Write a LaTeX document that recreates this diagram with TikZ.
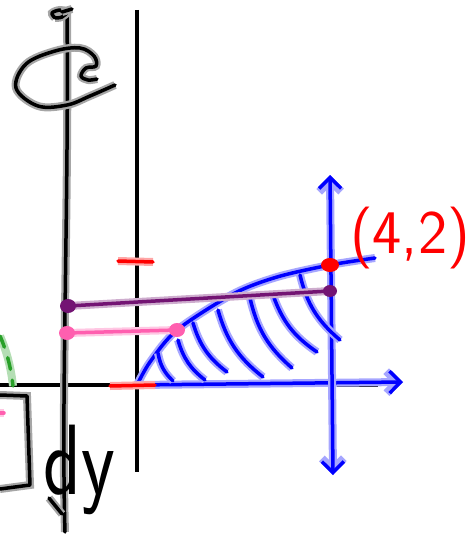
\documentclass[tikz,border=0pt]{standalone}
\usepackage{tikz}
\usetikzlibrary{arrows.meta, positioning, calc}

\definecolor{inkpurple}{RGB}{115,20,115}
\definecolor{inkpink}{RGB}{255,95,175}
\definecolor{inkgreen}{RGB}{40,160,40}

\tikzset{
  ink/.style={draw=#1, line width=3.5pt, line cap=round, line join=round,
    preaction={draw=#1!35, line width=8pt}},
  barb/.style={>={Straight Barb[length=11pt, width=22pt]}},
}

\begin{document}
\begin{tikzpicture}[x=1pt, y=-1pt, barb]
\useasboundingbox (0,0) rectangle (476,535);

% main axes
\draw[line width=4pt] (137,10) -- (137,472);
\draw[line width=4pt] (0,385) -- (378,385);

% rotated axis with its loop
\draw[ink=black] (67,10) .. controls (69,200) and (61,400) .. (65,532);
\draw[ink=black] (49,498) -- (62,514);
\draw[ink=black] plot[smooth, tension=0.6] coordinates {(55,18) (52,13) (60,10) (67,12) (62,17) (55,18)};
\draw[ink=black] (62,12) -- (72,9);
\draw[ink=black] plot[smooth, tension=0.6] coordinates {(115,85) (90,96) (67,105) (38,106) (16,88) (26,64) (55,51) (80,48) (94,56) (96,66) (86,68) (81,76) (88,80) (97,79)};

% the bracket and dy
\draw[ink=black] (0,395) -- (27,396) -- (30,485) -- (0,489);
\node[font=\sffamily\fontsize{100}{100}\selectfont, xscale=0.78, inner sep=0pt] (dy) at (79,470) {dy};

% green and pink bits at the left edge
\draw[ink=inkgreen, dash pattern=on 12pt off 11pt] (0,336) .. controls (7,352) and (11,368) .. (13,386);
\draw[ink=inkpink] (0,413) -- (4,413);

% region under the curve
\coordinate (O) at (137,385);
\coordinate (P) at (330,265);
\draw[ink=blue] plot[smooth] coordinates {(O) (150,362) (177,330) (233,294) (277,277) (P) (375,258)};
\draw[ink=blue, ->] (O) -- (403,382);
\draw[ink=blue, <->] (330,175) -- (333,475);

% hatching
\foreach \xa/\ya/\xb/\yb in {158/353/173/381, 178/340/205/380, 193/323/227/372, 218/310/263/377, 250/298/292/368, 273/295/317/352, 300/275/340/340}
  \draw[ink=blue] (\xa,\ya) to[bend right=18] (\xb,\yb);

% red marks
\draw[ink=red] (118,261) -- (153,262);
\draw[ink=red] (110,386) -- (155,385);
\fill[red] (P) ellipse [x radius=9, y radius=7];
\node[red, font=\sffamily\fontsize{62}{62}\selectfont, inner sep=0pt] (lbl) at (410,238) {(4,2)};

% strips across
\coordinate (pl) at (68,306);
\coordinate (pr) at (330,291);
\coordinate (kl) at (67,333);
\coordinate (kr) at (177,330);
\draw[ink=inkpurple] (pl) -- (pr);
\draw[ink=inkpink] (kl) -- (kr);
\fill[inkpurple] (pl) ellipse [x radius=8, y radius=7];
\fill[inkpurple] (pr) ellipse [x radius=7, y radius=6];
\fill[inkpink] (kl) ellipse [x radius=8, y radius=7];
\fill[inkpink] (kr) ellipse [x radius=8, y radius=7];
\end{tikzpicture}
\end{document}
